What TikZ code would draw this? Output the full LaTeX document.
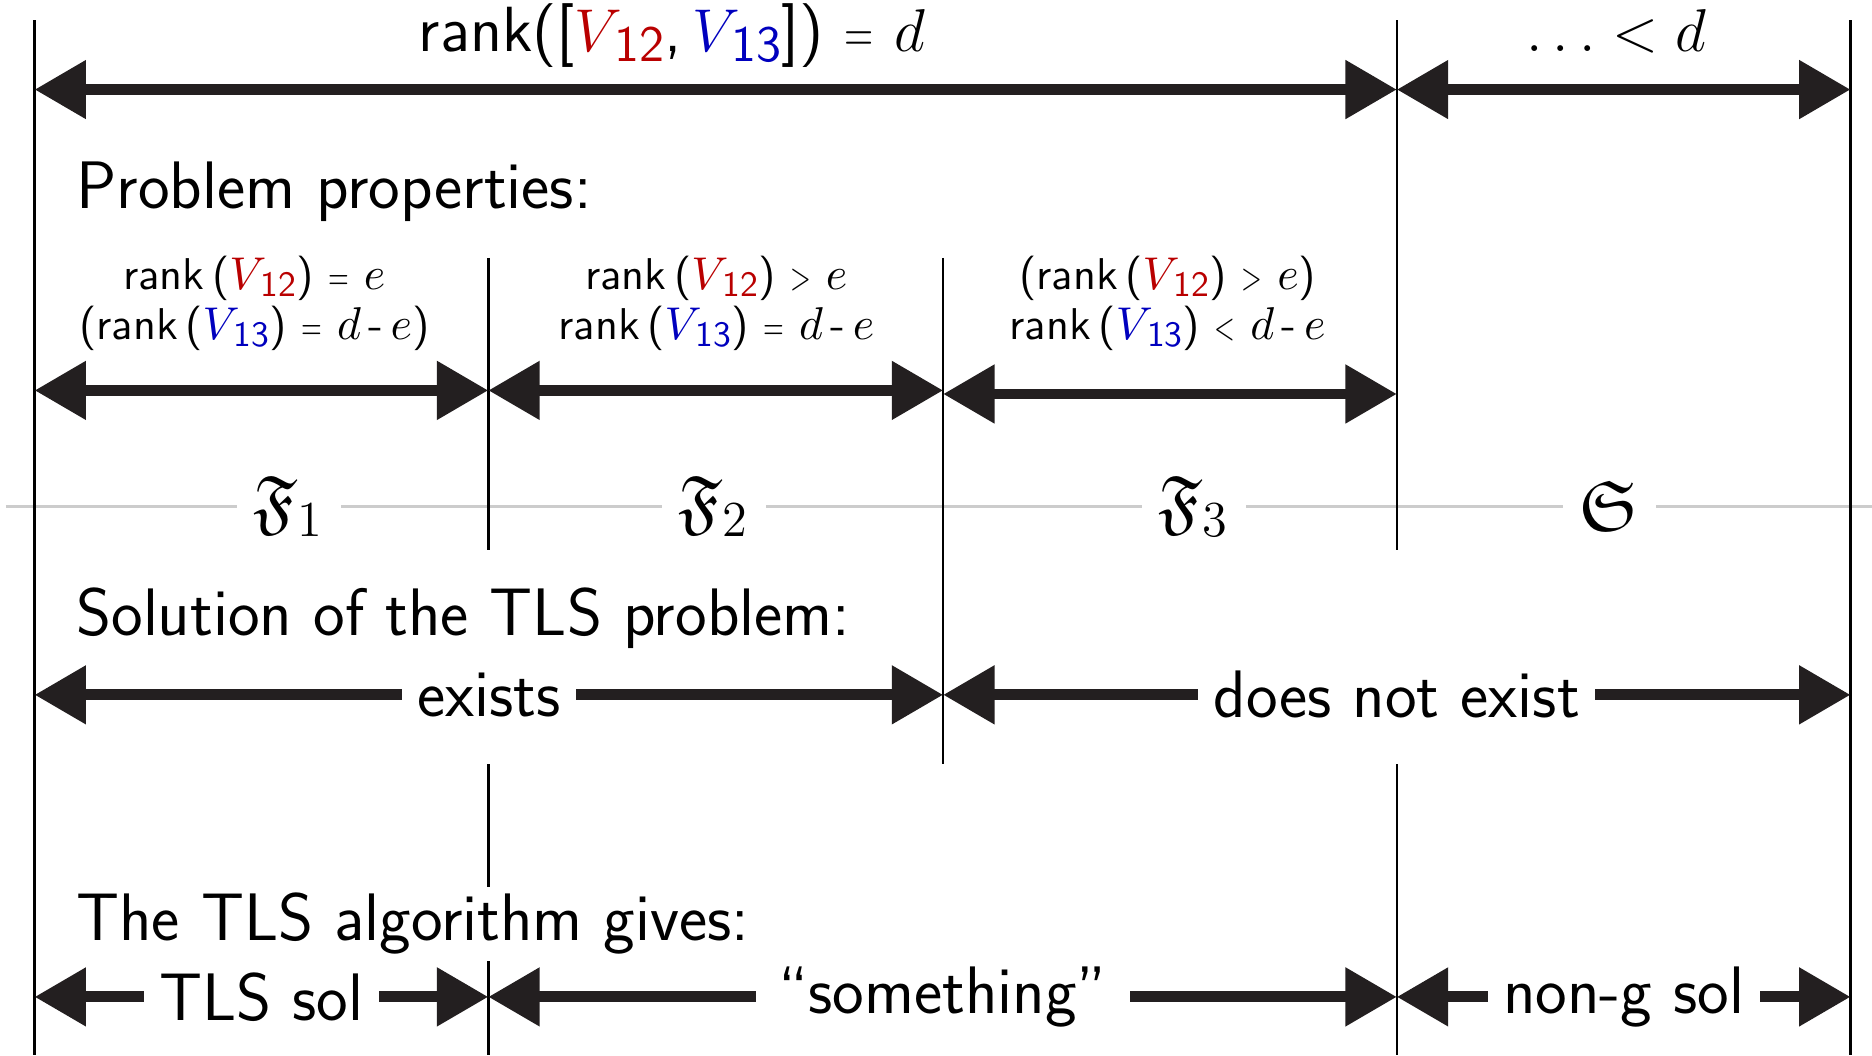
\documentclass[tikz,border=0pt]{standalone}
\usepackage{amsmath,amssymb}
\usepackage{graphicx}
\usepackage{xcolor}
\usepackage{tikz}
\usetikzlibrary{arrows.meta, positioning, calc}
\definecolor{vred}{RGB}{185,0,0}
\definecolor{vblue}{RGB}{0,0,190}
\definecolor{arrowblack}{RGB}{35,31,32}
\definecolor{axisgray}{RGB}{204,204,204}
\newcommand{\Vsub}[2]{\textcolor{#1}{$V$\kern-0.13em\raisebox{-0.35ex}{\scalebox{0.8}{#2}}}}
\newcommand{\Vtw}{\Vsub{vred}{12}}
\newcommand{\Vth}{\Vsub{vblue}{13}}
\newcommand{\rel}[1]{\scalebox{0.6}[0.85]{#1}}
\tikzstyle{arrow} = [line width=2.6pt, color=arrowblack, {Triangle[length=4.3mm,width=4.7mm]}-{Triangle[length=4.3mm,width=4.7mm]}]
\tikzstyle{divider} = [line width=0.6pt, black]
\tikzstyle{axis} = [line width=0.8pt, axisgray]
\tikzstyle{heading} = [anchor=base west, fill=white, inner sep=1.5pt, font=\fontsize{16}{19}\selectfont\sffamily]
\tikzstyle{toplabel} = [anchor=base, inner sep=0pt, font=\fontsize{15.2}{18}\selectfont\sffamily]
\tikzstyle{cond} = [align=center, font=\fontsize{10.6}{12}\selectfont\sffamily]
\tikzstyle{gap} = [fill=white, text=black, inner sep=3.7pt, font=\fontsize{16}{19}\selectfont\sffamily]
\tikzstyle{region} = [fill=white, inner sep=4pt, font=\fontsize{17}{19}\selectfont]

\begin{document}
\begin{tikzpicture}[x=0.01cm,y=-0.01cm]
  \useasboundingbox (0,0) rectangle (1568,884);

  % Columns and rows
  \coordinate (c0) at (29,0);
  \coordinate (c1) at (409,0);
  \coordinate (c2) at (790,0);
  \coordinate (c3) at (1170,0);
  \coordinate (c4) at (1550,0);
  \coordinate (top) at (0,17);
  \coordinate (mid) at (0,216);
  \coordinate (cut) at (0,461);
  \coordinate (resume) at (0,640);
  \coordinate (bottom) at (0,884);
  \coordinate (rowA) at (0,75);
  \coordinate (rowB) at (0,327);
  \coordinate (rowBB) at (0,330);
  \coordinate (rowC) at (0,582);
  \coordinate (rowD) at (0,835);
  \coordinate (axisL) at (5,424);
  \coordinate (axisR) at (1568,424);

  % Region axis
  \draw[axis] (axisL) -- (axisR);

  % Dividers
  \draw[divider] (c0 |- top) -- (c0 |- bottom);
  \draw[divider] (c1 |- mid) -- (c1 |- cut);
  \draw[divider] (c1 |- resume) -- (c1 |- bottom);
  \draw[divider] (c2 |- mid) -- (c2 |- resume);
  \draw[divider] (c3 |- top) -- (c3 |- cut);
  \draw[divider] (c3 |- resume) -- (c3 |- bottom);
  \draw[divider] (c4 |- top) -- (c4 |- bottom);

  % Region labels
  \node (f1) [region] at (242,424) {$\mathfrak{F}_1$};
  \node (f2) [region] at (598,424) {$\mathfrak{F}_2$};
  \node (f3) [region] at (1000,424) {$\mathfrak{F}_3$};
  \node (s) [region] at (1348,424) {$\mathfrak{S}$};

  % Rank of the whole matrix
  \node (rankall) [toplabel] at (563,43) {rank([\Vtw,\,\Vth]) \rel{=} $d$};
  \node (rankrest) [toplabel, font=\fontsize{13.8}{16}\selectfont] at (1354,43) {$\ldots < d$};
  \draw[arrow] (c0 |- rowA) -- (c3 |- rowA);
  \draw[arrow] (c3 |- rowA) -- (c4 |- rowA);

  % Problem properties
  \node (props) [heading] at (58,175) {Problem properties:};
  \node (condA) [cond] at (213,254) {rank\,(\Vtw) \rel{=} $e$\\(rank\,(\Vth) \rel{=} $d$\,-\,$e$)};
  \node (condB) [cond] at (600,254) {rank\,(\Vtw) \rel{>} $e$\\rank\,(\Vth) \rel{=} $d$\,-\,$e$};
  \node (condC) [cond] at (978,254) {(rank\,(\Vtw) \rel{>} $e$)\\rank\,(\Vth) \rel{<} $d$\,-\,$e$};
  \draw[arrow] (c0 |- rowB) -- (c1 |- rowB);
  \draw[arrow] (c1 |- rowB) -- (c2 |- rowB);
  \draw[arrow] (c2 |- rowBB) -- (c3 |- rowBB);

  % Solution of the TLS problem
  \node (solhead) [heading] at (58,532) {Solution of the TLS problem:};
  \draw[arrow] (c0 |- rowC) -- node[gap] (exists) {exists} (c2 |- rowC);
  \draw[arrow] (c2 |- rowC) -- node[gap] (noexist) {does not exist} (c4 |- rowC);

  % TLS algorithm output
  \node (alghead) [heading] at (58,788) {The TLS algorithm gives:};
  \draw[arrow] (c0 |- rowD) -- node[gap] (tlssol) {TLS sol} (c1 |- rowD);
  \draw[arrow] (c1 |- rowD) -- node[gap, inner xsep=5.5pt] (something) {“something”} (c3 |- rowD);
  \draw[arrow] (c3 |- rowD) -- node[gap] (nongsol) {non-g sol} (c4 |- rowD);
\end{tikzpicture}
\end{document}
